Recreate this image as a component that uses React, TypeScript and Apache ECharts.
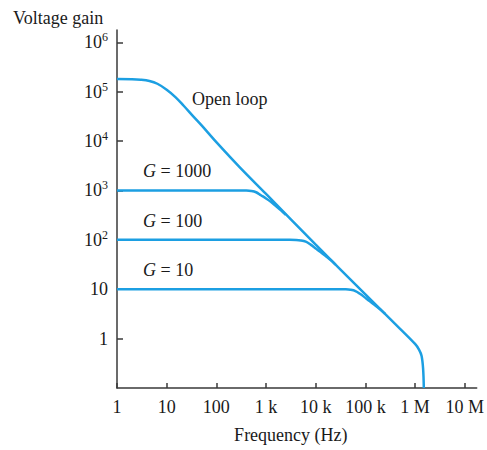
import React, { useEffect, useRef } from "react";
import * as echarts from "echarts";

// Axis ticks
const FREQ_TICKS = [1, 10, 100, 1e3, 1e4, 1e5, 1e6, 1e7];
const FREQ_TICK_LABELS = ["1", "10", "100", "1 k", "10 k", "100 k", "1 M", "10 M"];
const GAIN_TICKS = [1, 10, 100, 1e3, 1e4, 1e5, 1e6];
const GAIN_TICK_LABELS = ["{b|1}", "{b|10}", "{b|10}{s|2}", "{b|10}{s|3}", "{b|10}{s|4}", "{b|10}{s|5}", "{b|10}{s|6}"];

// Open-loop response (Hz, gain)
const openLoopFreq = [1, 2, 3, 4.5, 6.5, 10, 15, 22, 35, 50, 100, 300, 1000, 1e4, 1e5, 5e5, 1e6, 1.2e6, 1.35e6, 1.45e6, 1.5e6];
const openLoopGain = [1.8e5, 1.79e5, 1.75e5, 1.65e5, 1.45e5, 1.1e5, 7.8e4, 5.2e4, 3.1e4, 2.1e4, 9.5e3, 2.9e3, 850, 80, 7.9, 1.58, 0.78, 0.6, 0.45, 0.25, 0.1];

// Closed-loop G = 1000
const g1000Freq = [1, 300, 400, 500, 630, 790, 1000, 1250, 1600, 2000, 2500];
const g1000Gain = [1000, 1000, 995, 975, 920, 800, 690, 590, 480, 395, 320];

// Closed-loop G = 100
const g100Freq = [1, 3000, 4000, 5000, 6300, 7900, 10000, 12500, 16000, 20000, 25000];
const g100Gain = [100, 100, 99.5, 97.5, 92, 80, 67, 56.5, 46.5, 39, 31.6];

// Closed-loop G = 10
const g10Freq = [1, 30000, 40000, 50000, 63000, 79000, 100000, 125000, 160000, 200000, 250000];
const g10Gain = [10, 10, 9.95, 9.75, 9.2, 8.0, 6.7, 5.65, 4.65, 3.9, 3.16];

const FONT = "'Liberation Serif', 'Times New Roman', serif";
const BLUE = "#1c9fe2";
const AXIS = "#3a3a3a";
const TEXT = "#1a1a1a";

const toPts = (f: number[], g: number[]) => f.map((v, i) => [Math.log10(v), Math.log10(g[i])]);

export default function App() {
  const ref = useRef<HTMLDivElement>(null);
  useEffect(() => {
    if (!ref.current) return;
    const chart = echarts.init(ref.current, undefined, { renderer: "svg" });
    const mkSeries = (name: string, f: number[], g: number[]) => ({
      name,
      type: "line",
      data: toPts(f, g),
      showSymbol: false,
      smooth: 0.35,
      lineStyle: { color: BLUE, width: 2.5 },
      z: 3,
    });
    const italicRich = { i: { fontStyle: "italic", fontFamily: FONT, fontSize: 18, fill: TEXT } };
    chart.setOption({
      animation: false,
      backgroundColor: "#ffffff",
      title: {
        text: "Voltage gain",
        left: 8,
        top: 4,
        textStyle: { fontFamily: FONT, fontSize: 18, fontWeight: "normal", color: TEXT },
      },
      grid: { left: 117, right: 10, top: 30, bottom: 62 },
      xAxis: {
        type: "value",
        min: 0,
        max: 7.24,
        name: "Frequency (Hz)",
        nameLocation: "middle",
        nameGap: 38,
        nameTextStyle: { fontFamily: FONT, fontSize: 18, color: TEXT, padding: [0, 12, 0, 0] },
        axisLine: { show: true, onZero: false, lineStyle: { color: AXIS, width: 1.5 } },
        axisTick: { show: true, inside: true, length: 5, lineStyle: { color: AXIS, width: 1.5 }, customValues: FREQ_TICKS.map(Math.log10) },
        axisLabel: {
          customValues: FREQ_TICKS.map(Math.log10),
          margin: 10,
          fontFamily: FONT,
          fontSize: 18,
          color: TEXT,
          formatter: (v: number) => FREQ_TICK_LABELS[Math.round(v)] ?? "",
        },
        splitLine: { show: false },
      },
      yAxis: {
        type: "value",
        min: -1,
        max: 6.25,
        axisLine: { show: true, onZero: false, lineStyle: { color: AXIS, width: 1.5 } },
        axisTick: { show: true, inside: true, length: 6, lineStyle: { color: AXIS, width: 1.5 }, customValues: GAIN_TICKS.map(Math.log10) },
        axisLabel: {
          customValues: GAIN_TICKS.map(Math.log10),
          margin: 9,
          color: TEXT,
          formatter: (v: number) => GAIN_TICK_LABELS[Math.round(v)] ?? "",
          rich: {
            b: { fontFamily: FONT, fontSize: 18, color: TEXT, lineHeight: 22 },
            s: { fontFamily: FONT, fontSize: 12, color: TEXT, verticalAlign: "top", lineHeight: 12 },
          },
        },
        splitLine: { show: false },
      },
      graphic: [
        { type: "text", left: 192, top: 90, style: { text: "Open loop", font: `18px ${FONT}`, fill: TEXT } },
        { type: "text", left: 143, top: 162, style: { text: "{i|G} = 1000", rich: italicRich, font: `18px ${FONT}`, fill: TEXT } },
        { type: "text", left: 143, top: 212, style: { text: "{i|G} = 100", rich: italicRich, font: `18px ${FONT}`, fill: TEXT } },
        { type: "text", left: 143, top: 261, style: { text: "{i|G} = 10", rich: italicRich, font: `18px ${FONT}`, fill: TEXT } },
      ],
      series: [
        mkSeries("Open loop", openLoopFreq, openLoopGain),
        mkSeries("G = 1000", g1000Freq, g1000Gain),
        mkSeries("G = 100", g100Freq, g100Gain),
        mkSeries("G = 10", g10Freq, g10Gain),
      ],
    });
    return () => chart.dispose();
  }, []);
  return <div ref={ref} style={{ position: "absolute", left: 0, top: 0, width: 487, height: 450 }} />;
}
